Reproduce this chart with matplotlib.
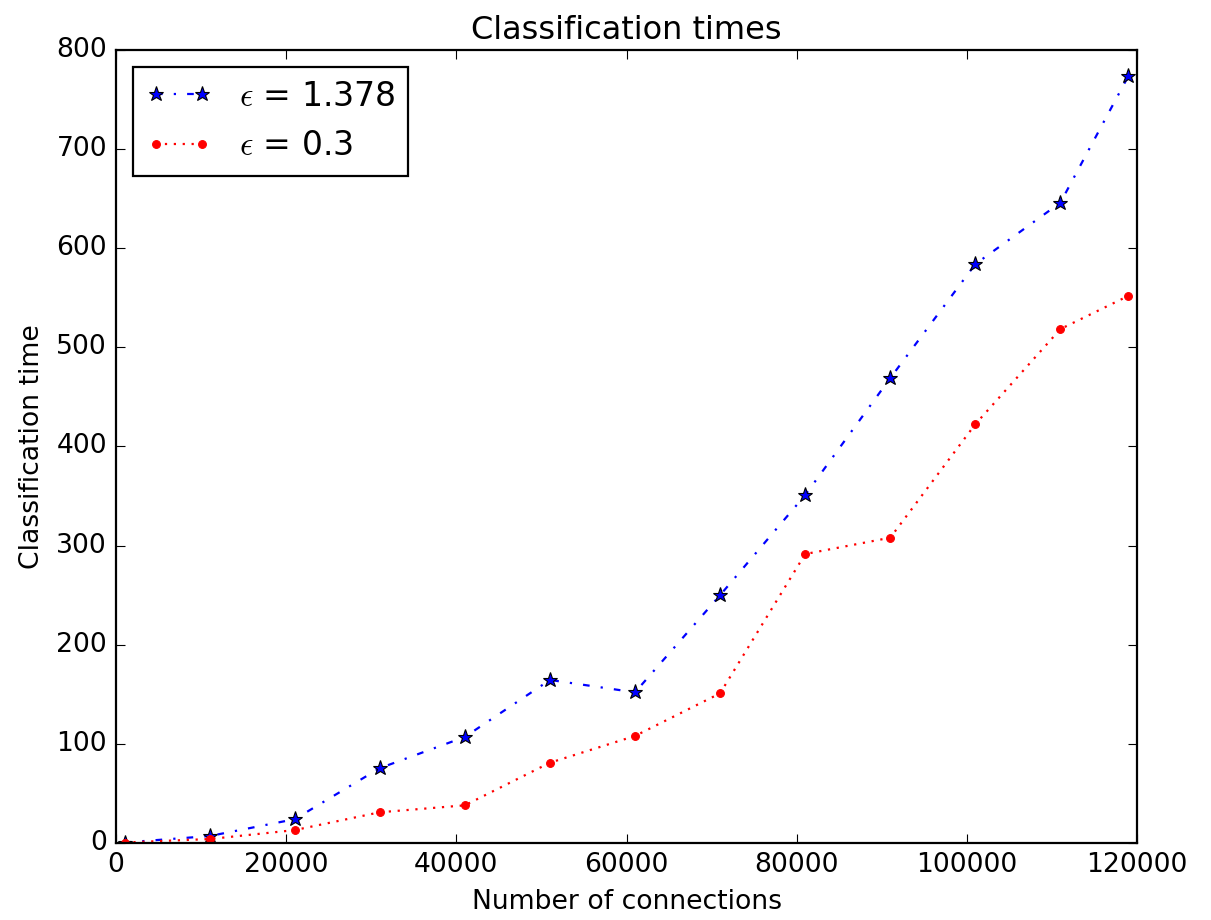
import matplotlib
matplotlib.use("Agg")
import matplotlib.pyplot as plt

plt.style.use("classic")

connections = [1000, 11000, 21000, 31000, 41000, 51000, 61000,
               71000, 81000, 91000, 101000, 111000, 119000]
times_eps_1378 = [0.5, 7, 24, 75.5, 107, 164.5, 152, 250, 351, 469, 584, 646, 774]
times_eps_03 = [0.5, 4, 13, 31, 38, 81, 108, 151, 291.5, 308, 422.5, 518.5, 552]

W, H, DPI = 1211, 920, 160
fig = plt.figure(figsize=(W / DPI, H / DPI), dpi=DPI)
fig.patch.set_facecolor("white")
ax = fig.add_axes([116 / W, 1 - 843 / H, (1137 - 116) / W, (843 - 50) / H])

ax.plot(connections, times_eps_1378, "b*-.", label=r"$\epsilon$ = 1.378",
        markeredgecolor="black", markersize=7)
ax.plot(connections, times_eps_03, "r.:", label=r"$\epsilon$ = 0.3",
        markersize=7)

ax.set_xlim(0, 120000)
ax.set_ylim(0, 800)
ax.set_title("Classification times")
ax.set_xlabel("Number of connections")
ax.set_ylabel("Classification time")
ax.legend(loc="upper left", fontsize=14.9)

fig.savefig("out.png", dpi=DPI, facecolor="white")
